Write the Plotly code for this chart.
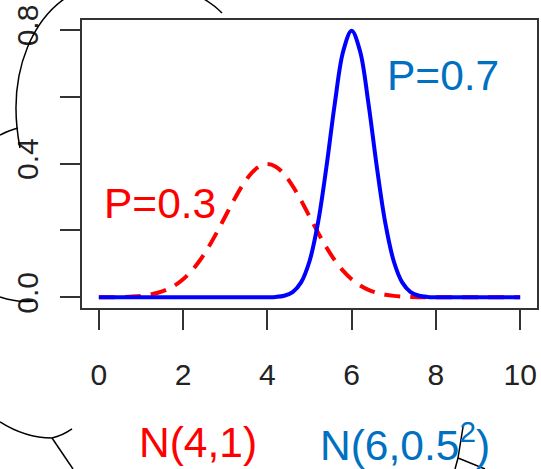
import plotly.graph_objects as go

# ---- data ----
x_vals = [round(0.2 * i, 1) for i in range(51)]
red_density = [0.0001, 0.0003, 0.0006, 0.0012, 0.0024, 0.0044, 0.0079, 0.0136, 0.0224, 0.0355,
               0.0540, 0.0790, 0.1109, 0.1497, 0.1942, 0.2420, 0.2897, 0.3332, 0.3683, 0.3910,
               0.3989, 0.3910, 0.3683, 0.3332, 0.2897, 0.2420, 0.1942, 0.1497, 0.1109, 0.0790,
               0.0540, 0.0355, 0.0224, 0.0136, 0.0079, 0.0044, 0.0024, 0.0012, 0.0006, 0.0003,
               0.0001, 0, 0, 0, 0, 0, 0, 0, 0, 0, 0]
blue_density = [0, 0, 0, 0, 0, 0, 0, 0, 0, 0,
                0, 0, 0, 0, 0, 0, 0, 0, 0, 0,
                0.0003, 0.0012, 0.0048, 0.0158, 0.0448, 0.1080, 0.2218, 0.3884, 0.5794, 0.7365,
                0.7979, 0.7365, 0.5794, 0.3884, 0.2218, 0.1080, 0.0448, 0.0158, 0.0048, 0.0012,
                0.0003, 0, 0, 0, 0, 0, 0, 0, 0, 0, 0]
x_ticks = [0, 2, 4, 6, 8, 10]
y_ticks = [0.0, 0.4, 0.8]
y_tick_text = ["0.0", "0.4", "0.8"]

W, H = 541, 469
L, R, T, B = 82, 4, 20, 161
PW, PH = W - L - R, H - T - B


def px(x):
    return (x - L) / PW


def py(y):
    return (H - B - y) / PH


fig = go.Figure()
fig.add_trace(go.Scatter(x=x_vals, y=red_density, mode="lines", line_shape="spline",
                         line=dict(color="#FF0000", width=4, dash="16px,10px"), showlegend=False))
fig.add_trace(go.Scatter(x=x_vals, y=blue_density, mode="lines", line_shape="spline",
                         line=dict(color="#0000FF", width=4), showlegend=False))

font = "Liberation Sans, Arial, sans-serif"
ann = [
    ("P=0.3", 160, 203, "#FF0000"),
    ("P=0.7", 443, 75, "#0070C0"),
    ("N(4,1)", 198, 442, "#FF0000"),
    ("N(6,0.5<sup>2</sup>)", 405, 442, "#0070C0"),
]
for t, ax, ay, c in ann:
    fig.add_annotation(text=t, x=px(ax), y=py(ay), xref="paper", yref="paper",
                       showarrow=False, xanchor="center", yanchor="middle",
                       font=dict(family=font, size=42.5, color=c))

# decorative hand-drawn strokes from the slide
paths = [
    "M 20 148 C 5 70 35 10 80 -10 C 140 -35 200 -10 222 13",
    "M 0 135 Q 10 130 18 128",
    "M 0 297 Q 18 303 33 301",
    "M 0 422 Q 25 438 52 438 Q 62 436 72 429",
    "M 52 438 L 73 469",
    "M 463 427 L 458 458 L 485 469",
    "M 458 458 L 455 469",
]


def conv(p):
    toks = p.split()
    out = []
    i = 0
    while i < len(toks):
        tk = toks[i]
        if tk.isalpha():
            out.append(tk)
            i += 1
        else:
            xx = float(toks[i]); yy = float(toks[i + 1])
            out.append(f"{px(xx):.4f},{py(yy):.4f}")
            i += 2
    return " ".join(out)


for p in paths:
    fig.add_shape(type="path", path=conv(p), xref="paper", yref="paper",
                  line=dict(color="black", width=1.5), layer="above")

fig.update_layout(
    width=W, height=H, margin=dict(l=L, r=R, t=T, b=B, pad=0, autoexpand=False),
    paper_bgcolor="white", plot_bgcolor="white",
    font=dict(family=font, color="#222222"),
)
fig.update_xaxes(range=[-0.4, 10.4], tickvals=x_ticks, ticks="outside", ticklen=20,
                 tickwidth=1.5, tickcolor="#333", showline=True, linecolor="#333",
                 linewidth=1.5, mirror=True, showgrid=False, zeroline=False, automargin=False,
                 tickfont=dict(size=30, color="#222"), ticklabelstandoff=19)
fig.update_yaxes(range=[-0.0319, 0.8298], tickvals=y_ticks, ticktext=y_tick_text,
                 ticks="outside", ticklen=20, tickwidth=1.5, tickcolor="#333",
                 minor=dict(tickvals=[0.2, 0.6], ticks="outside", ticklen=20, tickwidth=1.5,
                            tickcolor="#333", showgrid=False),
                 showline=True, linecolor="#333", linewidth=1.5, mirror=True, automargin=False,
                 showgrid=False, zeroline=False, tickangle=-90,
                 tickfont=dict(size=30, color="#222"), ticklabelstandoff=10)

fig.write_html("out.html", config={"displayModeBar": False},
               post_script="document.body.style.margin='0';document.body.style.overflow='hidden';")
